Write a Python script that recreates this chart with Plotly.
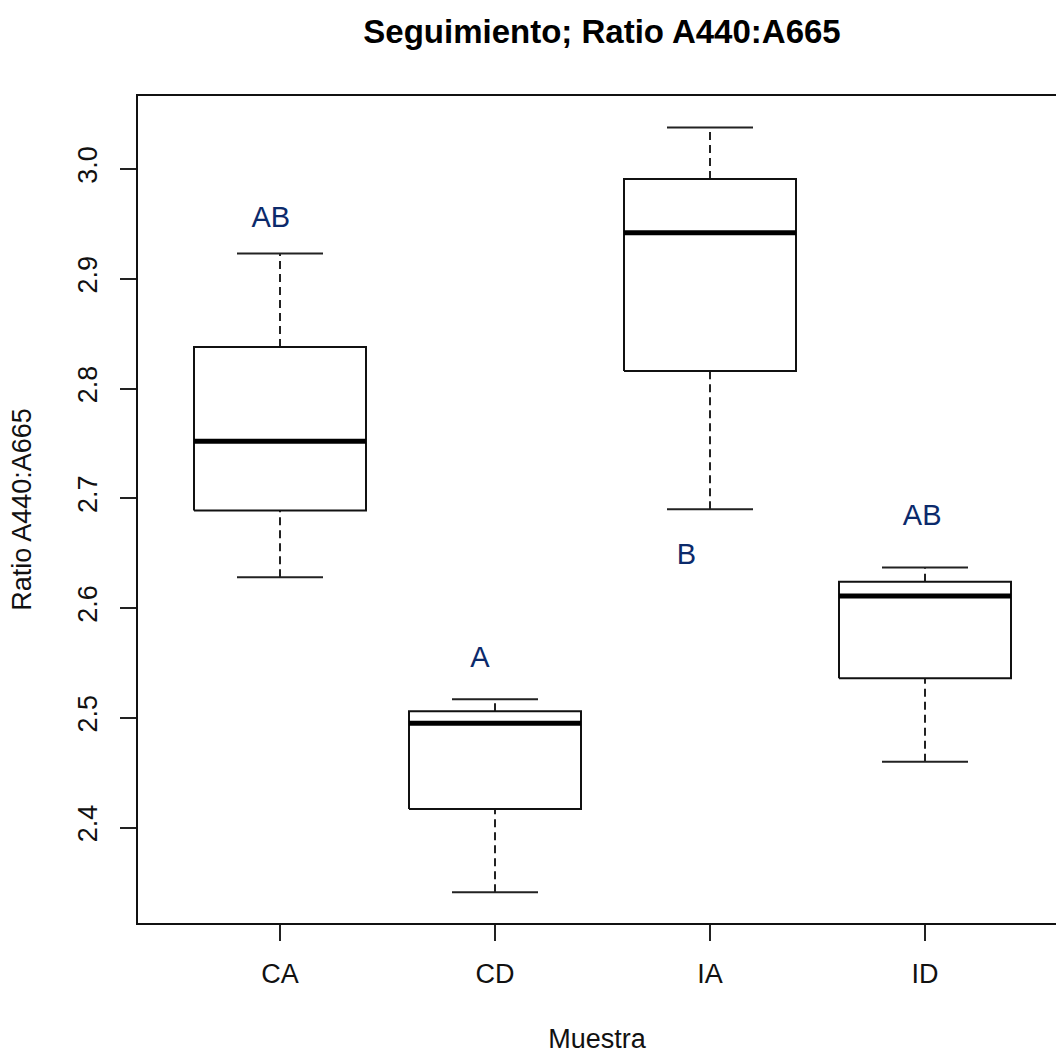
import plotly.graph_objects as go

categories = ["CA", "CD", "IA", "ID"]
whisker_low = [2.628, 2.341, 2.690, 2.460]
q1 = [2.689, 2.417, 2.816, 2.536]
median = [2.752, 2.495, 2.942, 2.611]
q3 = [2.838, 2.506, 2.991, 2.624]
whisker_high = [2.923, 2.517, 3.038, 2.637]

letters = ["AB", "A", "B", "AB"]
letter_x = [0.957, 1.930, 2.890, 3.987]
letter_y = [2.954, 2.553, 2.647, 2.682]

y_ticks = [2.4, 2.5, 2.6, 2.7, 2.8, 2.9, 3.0]
y_tick_labels = ["2.4", "2.5", "2.6", "2.7", "2.8", "2.9", "3.0"]

FONT = "Liberation Sans, Arial, sans-serif"
half_box = 0.4
half_cap = 0.2

pos = list(range(1, len(categories) + 1))

box_x, box_y = [], []
med_x, med_y = [], []
wh_x, wh_y = [], []
cap_x, cap_y = [], []
for p, lo, a, m, b, hi in zip(pos, whisker_low, q1, median, q3, whisker_high):
    box_x += [p - half_box, p + half_box, p + half_box, p - half_box, p - half_box, None]
    box_y += [a, a, b, b, a, None]
    med_x += [p - half_box, p + half_box, None]
    med_y += [m, m, None]
    wh_x += [p, p, None, p, p, None]
    wh_y += [b, hi, None, lo, a, None]
    cap_x += [p - half_cap, p + half_cap, None, p - half_cap, p + half_cap, None]
    cap_y += [hi, hi, None, lo, lo, None]

fig = go.Figure()
fig.add_trace(go.Scatter(x=wh_x, y=wh_y, mode="lines",
                         line=dict(color="#222222", width=2, dash="8px,5px"),
                         hoverinfo="skip", showlegend=False))
fig.add_trace(go.Scatter(x=cap_x, y=cap_y, mode="lines",
                         line=dict(color="#222222", width=2),
                         hoverinfo="skip", showlegend=False))
fig.add_trace(go.Scatter(x=box_x, y=box_y, mode="lines",
                         line=dict(color="#111111", width=2),
                         hoverinfo="skip", showlegend=False))
fig.add_trace(go.Scatter(x=med_x, y=med_y, mode="lines",
                         line=dict(color="black", width=5),
                         hoverinfo="skip", showlegend=False))
fig.add_trace(go.Scatter(x=letter_x, y=letter_y, mode="text", text=letters,
                         textposition="middle center",
                         textfont=dict(family=FONT, size=29, color="#0B2A6B"),
                         hoverinfo="skip", showlegend=False))

fig.update_layout(
    width=1056, height=1054,
    margin=dict(l=138, r=0, t=96, b=129),
    paper_bgcolor="white", plot_bgcolor="white",
    font=dict(family=FONT, size=27, color="black"),
    title=dict(text="<b>Seguimiento; Ratio A440:A665</b>",
               x=602 / 1056, xanchor="center", xref="container",
               y=1 - 31 / 1054, yanchor="middle", yref="container",
               font=dict(family=FONT, size=33, color="black")),
)

fig.update_xaxes(
    range=[1 - 142 / 215, 1 + 776 / 215],
    tickvals=pos, ticktext=categories,
    ticks="outside", ticklen=16, tickwidth=2, tickcolor="#222222",
    showline=True, linewidth=2, linecolor="#111111", mirror=True,
    showgrid=False, zeroline=False,
    tickfont=dict(family=FONT, size=27, color="#111111"),
    ticklabelstandoff=10,
    title=dict(text="Muestra", standoff=46,
               font=dict(family=FONT, size=27, color="#111111")),
)
fig.update_yaxes(
    range=[3.0 - (925 - 169.3) / 1100, 3.0 + (169.3 - 96) / 1100],
    tickvals=y_ticks, ticktext=y_tick_labels, tickangle=-90,
    ticks="outside", ticklen=16, tickwidth=2, tickcolor="#222222",
    showline=True, linewidth=2, linecolor="#111111", mirror=False,
    showgrid=False, zeroline=False,
    tickfont=dict(family=FONT, size=27, color="#111111"),
    ticklabelstandoff=12,
    title=dict(text="Ratio A440:A665", standoff=34,
               font=dict(family=FONT, size=27, color="#111111")),
)

fig.write_html("out.html")
